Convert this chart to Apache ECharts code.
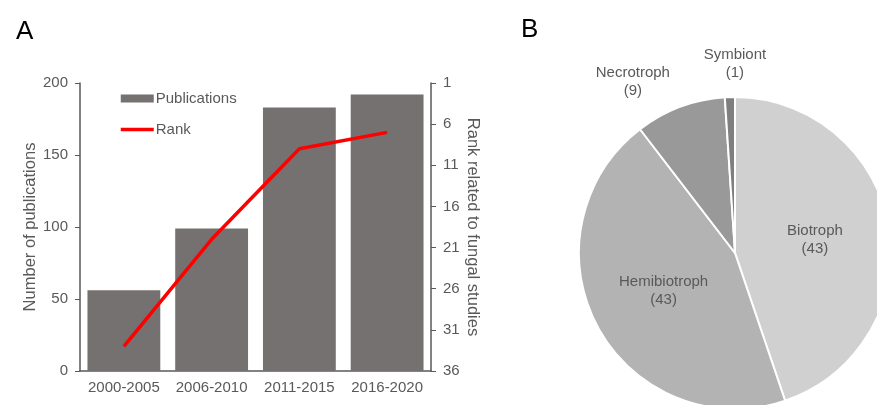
<!DOCTYPE html>
<html><head><meta charset="utf-8">
<script src="https://cdn.jsdelivr.net/npm/echarts@6/dist/echarts.min.js"></script>
<style>html,body{margin:0;padding:0;background:#fff}#c{width:877px;height:405px}</style>
</head><body><div id="c"></div>
<script>
var periods = ['2000-2005', '2006-2010', '2011-2015', '2016-2020'];
var publications = [56, 99, 183, 192];
var rank = [33, 20, 9, 7];
var rankTicks = [1, 6, 11, 16, 21, 26, 31, 36];
var lifestyles = ['Biotroph', 'Hemibiotroph', 'Necrotroph', 'Symbiont'];
var lifestyleCounts = [43, 43, 9, 1];
var lifestyleColors = ['#d0d0d0', '#b3b3b3', '#999999', '#7f7f7f'];

var txt = '#595959';
var font = 'Liberation Sans';
var outsideLabelShift = {2: [-32, 2], 3: [11, -4]};
var chart = echarts.init(document.getElementById('c'), null, {renderer: 'canvas'});
chart.setOption({
  animation: false,
  textStyle: {fontFamily: font},
  title: [
    {text: 'A', left: 11, top: 14, textStyle: {fontSize: 26, fontWeight: 'normal', color: '#000', fontFamily: font}},
    {text: 'B', left: 516, top: 12, textStyle: {fontSize: 26, fontWeight: 'normal', color: '#000', fontFamily: font}}
  ],
  legend: {
    orient: 'vertical', left: 114, top: 86, itemGap: 16, itemWidth: 33, itemHeight: 8,
    textStyle: {color: txt, fontSize: 15, fontFamily: font, padding: [0, 0, 0, -3]},
    data: [
      {name: 'Publications', icon: 'rect'},
      {name: 'Rank', lineStyle: {width: 3.5, color: '#ff0000'},
        itemStyle: {color: 'rgba(0,0,0,0)', borderColor: 'rgba(0,0,0,0)', borderWidth: 0}}
    ]
  },
  grid: {left: 80, right: 446, top: 83, bottom: 34},
  xAxis: {
    type: 'category', data: periods,
    axisLine: {lineStyle: {color: txt, width: 1.5}},
    axisTick: {alignWithLabel: true, length: 5, lineStyle: {color: txt}},
    axisLabel: {color: txt, fontSize: 15, margin: 9, fontFamily: font, interval: 0}
  },
  yAxis: [
    {
      type: 'value', min: 0, max: 200, interval: 50,
      name: 'Number of publications', nameLocation: 'middle', nameGap: 41, nameRotate: 90,
      nameTextStyle: {color: txt, fontSize: 16.5, fontFamily: font},
      axisLine: {show: true, lineStyle: {color: txt, width: 1.5}},
      axisTick: {show: true, length: 5, lineStyle: {color: txt}},
      axisLabel: {color: txt, fontSize: 15, margin: 12, fontFamily: font},
      splitLine: {show: false}
    },
    {
      type: 'value', min: 1, max: 36, inverse: true, position: 'right',
      name: 'Rank related to fungal studies', nameLocation: 'middle', nameGap: 31, nameRotate: -90,
      nameTextStyle: {color: txt, fontSize: 16.5, fontFamily: font},
      axisLine: {show: true, lineStyle: {color: txt, width: 1.5}},
      axisTick: {show: true, length: 5, lineStyle: {color: txt}, customValues: rankTicks},
      axisLabel: {color: txt, fontSize: 15, margin: 12, fontFamily: font, customValues: rankTicks},
      splitLine: {show: false}
    }
  ],
  series: [
    {
      name: 'Publications', type: 'bar', data: publications, yAxisIndex: 0,
      barCategoryGap: '17%', itemStyle: {color: '#767171'}
    },
    {
      name: 'Rank', type: 'line', data: rank, yAxisIndex: 1,
      symbol: 'none', lineStyle: {color: '#ff0000', width: 3.5}, itemStyle: {color: '#ff0000'}
    },
    {
      name: 'Lifestyle', type: 'pie', center: [735, 253], radius: 156,
      startAngle: 90, clockwise: true, avoidLabelOverlap: false,
      itemStyle: {borderColor: '#fff', borderWidth: 2},
      label: {color: txt, fontSize: 15, fontFamily: font, lineHeight: 18,
        formatter: function (p) { return p.name + '\n(' + p.value + ')'; }},
      labelLine: {show: false, length: 29, length2: 0},
      labelLayout: function (p) {
        var s = outsideLabelShift[p.dataIndex];
        if (!s) return {};
        return {align: 'center', dx: s[0], dy: s[1]};
      },
      data: lifestyles.map(function (n, i) {
        var big = lifestyleCounts[i] > 20;
        return {
          name: n, value: lifestyleCounts[i],
          itemStyle: {color: lifestyleColors[i]},
          label: {position: big ? 'inside' : 'outside'}
        };
      })
    }
  ]
});
</script></body></html>
